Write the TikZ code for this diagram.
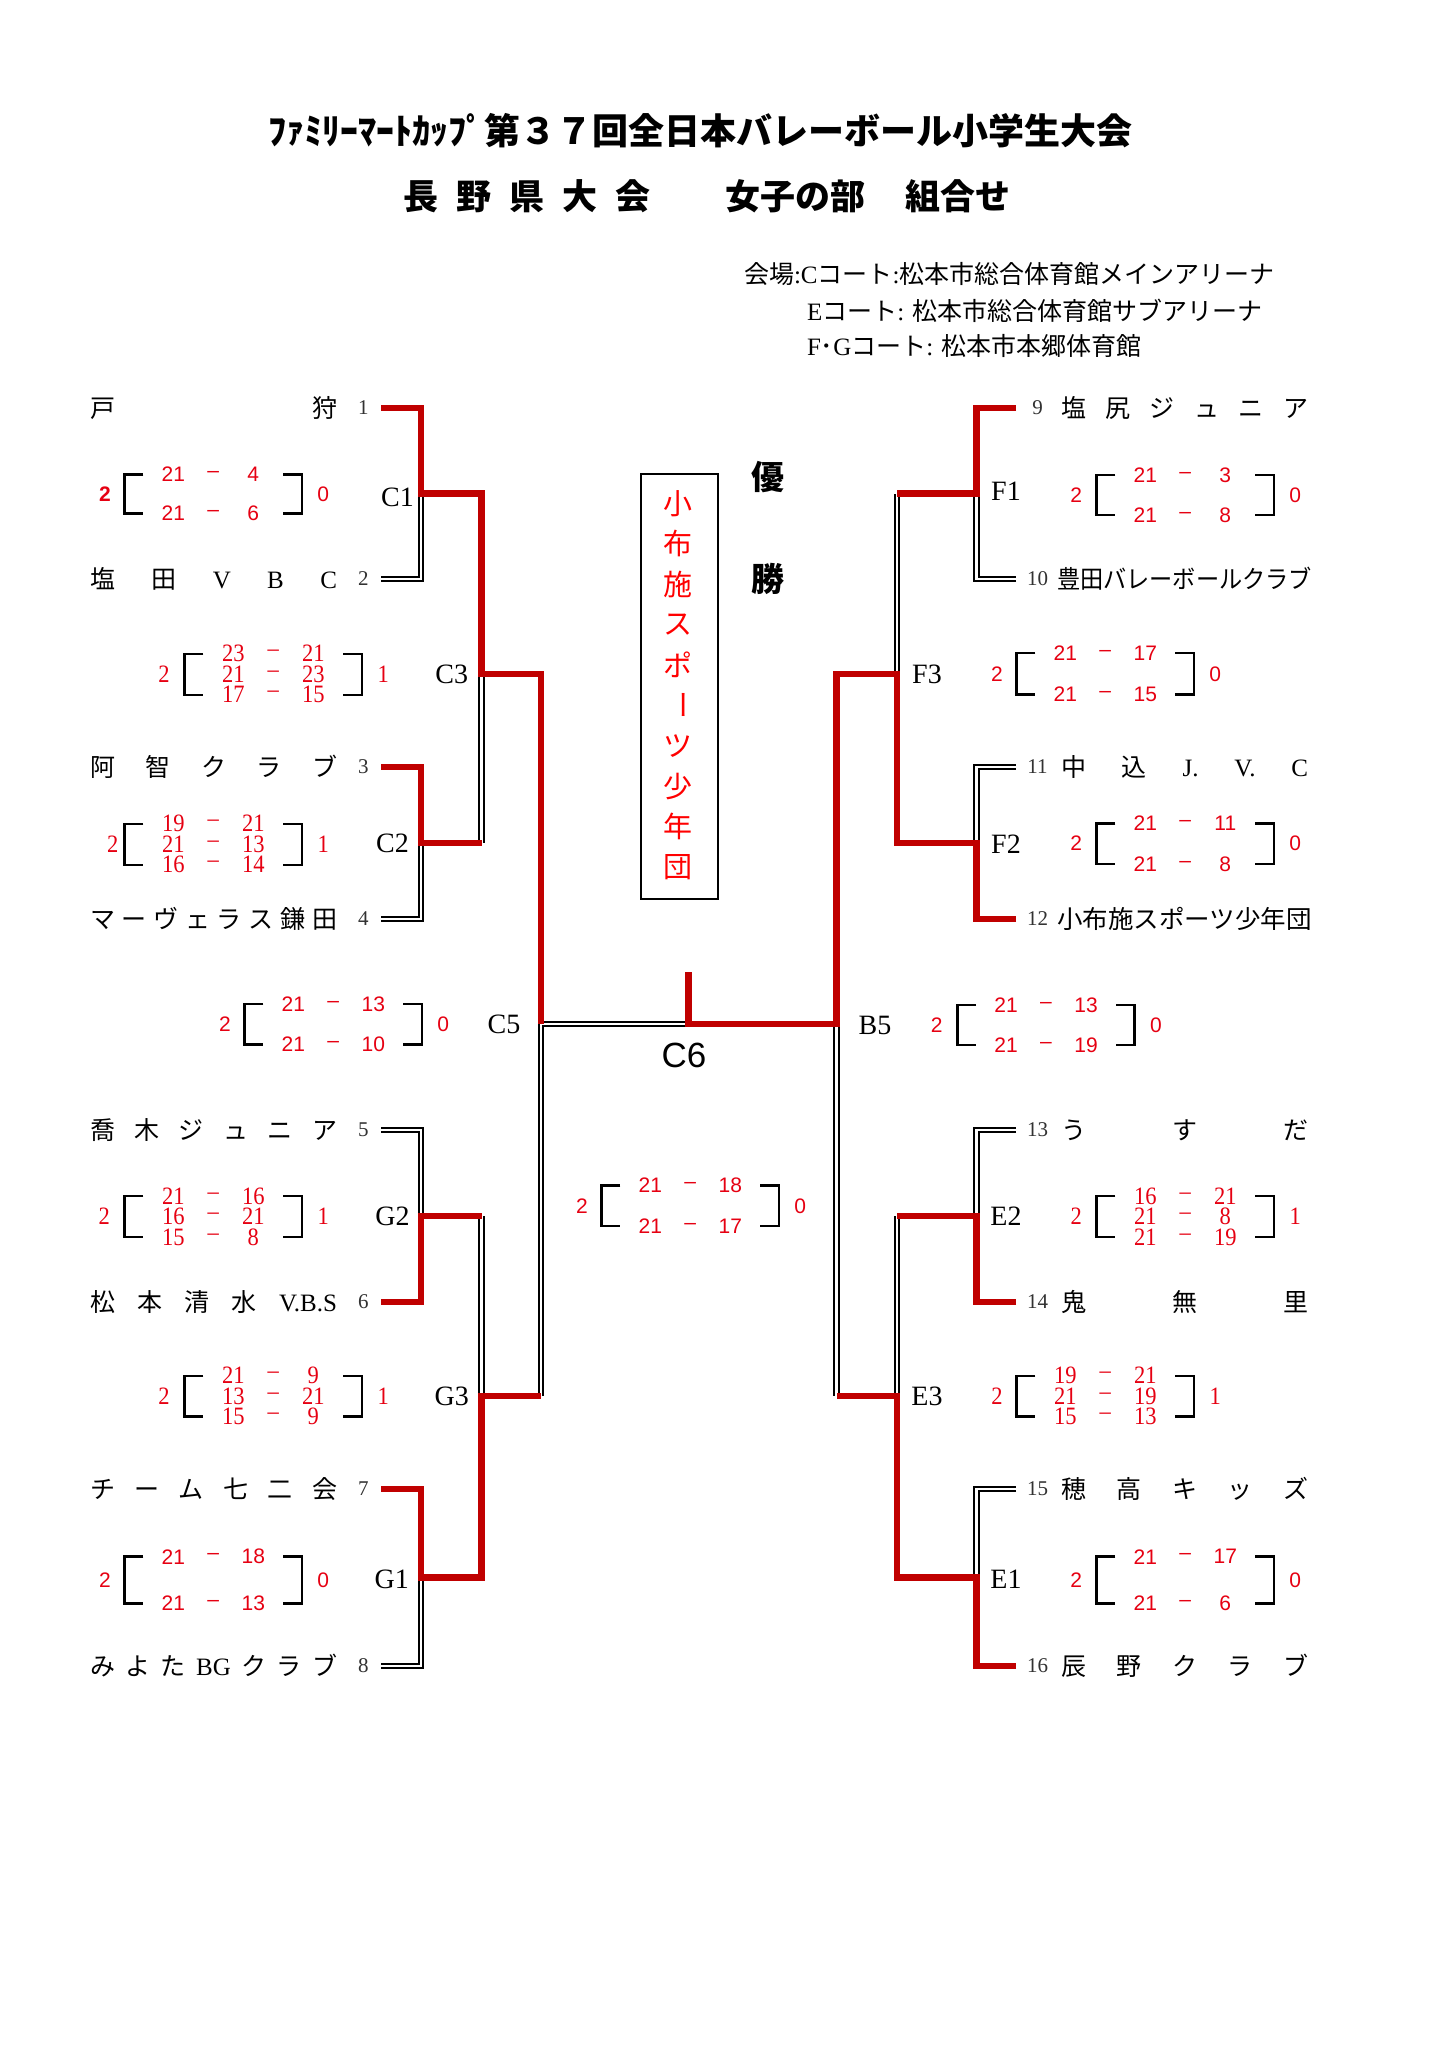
\documentclass[tikz,border=0pt]{standalone}
\usepackage{fontspec}
\usepackage{graphicx}
\setmainfont{Liberation Serif}
\newfontfamily\jp{Noto Sans CJK JP}
\newfontfamily\latn{Liberation Serif}
\newfontfamily\lsans{Liberation Sans}
\newfontfamily\sstr{Liberation Serif}[FakeStretch=0.9]
\newcommand\lw[1]{{\latn #1}}
\definecolor{lred}{RGB}{192,0,0}
\definecolor{scred}{RGB}{230,0,18}
\definecolor{numgray}{RGB}{50,50,50}
\tikzset{
 every node/.style={inner sep=0pt, outer sep=0pt},
 rl/.style={draw=lred, line width=3.3bp},
 dbl/.style={draw=black, double=white, double distance=1.2bp, line width=1.05bp},
 brk/.style={draw=black, line width=1.35bp},
 sc2/.style={text=scred, font=\lsans\fontsize{10.5bp}{12bp}\selectfont},
 sc3/.style={text=scred, font=\sstr\fontsize{12.5bp}{14bp}\selectfont},
 lab/.style={font=\latn\fontsize{14bp}{16bp}\selectfont},
 tnum/.style={text=numgray, font=\latn\fontsize{10.5bp}{12bp}\selectfont},
 tname/.style={anchor=west, font=\jp\fontsize{12.5bp}{14bp}\selectfont},
 venue/.style={anchor=west, font=\jp\fontsize{12.5bp}{14bp}\selectfont},
 ttl/.style={anchor=west, font=\jp\bfseries\fontsize{18bp}{20bp}\selectfont},
 wtext/.style={text=red, font=\jp\fontsize{14.5bp}{16bp}\selectfont},
 yusho/.style={font=\jp\bfseries\fontsize{16.5bp}{18bp}\selectfont},
}
\newcommand\jn[1]{\makebox[123.5bp]{#1}}
% #1 name #2 base #3 ytop #4 ybot #5 L #6 R #7 rows #8 leftoff #9 style
\newcommand\scoreblk[9]{%
 \draw[brk] ({#2+20},#3) -- ({#2+1.35},#3) -- ({#2+1.35},#4) -- ({#2+20},#4);
 \draw[brk] ({#2+160},#3) -- ({#2+178.65},#3) -- ({#2+178.65},#4) -- ({#2+160},#4);
 \node[#9] (#1-L) at ({#2-#8},{(#3+#4)/2}) {#5};
 \node[#9] (#1-R) at ({#2+200},{(#3+#4)/2}) {#6};
 \foreach \yy/\aa/\bb [count=\i] in {#7} {
   \node[#9] (#1-a\i) at ({#2+50},\yy) {\aa};
   \node[#9] (#1-d\i) at ({#2+90},\yy) {–};
   \node[#9] (#1-b\i) at ({#2+130},\yy) {\bb};
 }%
}
\begin{document}
\begin{tikzpicture}[x=0.5bp,y=-0.5bp]
\fill[white] (0,0) rectangle (1448,2048);
\useasboundingbox (0,0) rectangle (1448,2048);

% titles
\node[ttl] (title1) at (268,131) {ﾌｧﾐﾘｰﾏｰﾄｶｯﾌﾟ第３７回全日本バレーボール小学生大会};
\node[ttl, font=\jp\bfseries\fontsize{17.5bp}{20bp}\selectfont] (title2) at (403.5,196)
 {長\hspace{9bp}野\hspace{9bp}県\hspace{9bp}大\hspace{9bp}会\hspace{37.5bp}女子の部\hspace{19.75bp}組合せ};
\node[venue] (v1) at (744,274) {会場\lw{:C}コート\lw{:}松本市総合体育館メインアリーナ};
\node[venue] (v2) at (807,311) {\lw{E}コート\lw{: }松本市総合体育館サブアリーナ};
\node[venue] (v3) at (807,346) {\lw{F}･\lw{G}コート\lw{: }松本市本郷体育館};

% coordinates
\foreach \k/\yy in {1/408,2/579,3/767,4/919,5/1130,6/1302,7/1489,8/1666}
  \coordinate (t\k) at (381,\yy);
\foreach \k/\yy in {9/408,10/579,11/767,12/919,13/1130,14/1302,15/1489,16/1666}
  \coordinate (t\k) at (1016,\yy);
\coordinate (jC1) at (421,493.5);
\coordinate (jC2) at (421,843);
\coordinate (jG2) at (421,1216);
\coordinate (jG1) at (421,1577.5);
\coordinate (jC3) at (481.5,674);
\coordinate (jG3) at (481.5,1396);
\coordinate (jC5) at (541,1024);
\coordinate (jC6) at (688.5,1024);
\coordinate (cup) at (688.5,972);
\coordinate (jF1) at (976.5,493.5);
\coordinate (jF2) at (976.5,843);
\coordinate (jE2) at (976.5,1216);
\coordinate (jE1) at (976.5,1577.5);
\coordinate (jF3) at (897,674);
\coordinate (jE3) at (897,1396);
\coordinate (jB5) at (836.5,1024);

% losing paths (double black)
\draw[dbl] (t2) -| (jC1);
\draw[dbl] (t4) -| (jC2);
\draw[dbl] (jC2 -| jC3) -- (jC3);
\draw[dbl] (t5) -| (jG2);
\draw[dbl] (jG2 -| jG3) -- (jG3);
\draw[dbl] (t8) -| (jG1);
\draw[dbl] (jC6) -- (jC5) -- (jG3 -| jC5);
\draw[dbl] (t10) -| (jF1);
\draw[dbl] (jF1 -| jF3) -- (jF3);
\draw[dbl] (t11) -| (jF2);
\draw[dbl] (t13) -| (jE2);
\draw[dbl] (jE2 -| jE3) -- (jE3);
\draw[dbl] (t15) -| (jE1);
\draw[dbl] (jB5) -- (jE3 -| jB5);

% winning paths (red)
\draw[rl] (t1) -| (jC1) -| (jC3) -| (jC5);
\draw[rl] (t3) -| (jC2) -- (jC2 -| jC3);
\draw[rl] (t6) -| (jG2) -- (jG2 -| jG3);
\draw[rl] (t7) -| (jG1) -| (jG3) -- (jG3 -| jC5);
\draw[rl] (t9) -| (jF1) -- (jF1 -| jF3);
\draw[rl] (t12) -| (jF2) -| (jF3) -| (jB5) -- (jC6) -- (cup);
\draw[rl] (t14) -| (jE2) -- (jE2 -| jE3);
\draw[rl] (t16) -| (jE1) -| (jE3) -- (jE3 -| jB5);

% team numbers
\foreach \k/\yy in {1/408,2/579,3/767,4/919,5/1130,6/1302,7/1489,8/1666}
  \node[tnum] (k\k) at (363.3,\yy) {\k};
\foreach \k/\yy in {9/408,10/579,11/767,12/919,13/1130,14/1302,15/1489,16/1666}
  \node[tnum] (k\k) at (1037.5,\yy) {\k};

% team names
\node[tname] (n1) at (90,408) {\jn{戸\hfill 狩}};
\node[tname] (n2) at (90,579) {\jn{塩\hfill 田\hfill\lw{V}\hfill\lw{B}\hfill\lw{C}}};
\node[tname] (n3) at (90,767) {\jn{阿\hfill 智\hfill ク\hfill ラ\hfill ブ}};
\node[tname] (n4) at (90,919) {\jn{マ\hfill ー\hfill ヴ\hfill ェ\hfill ラ\hfill ス\hfill 鎌\hfill 田}};
\node[tname] (n5) at (90,1130) {\jn{喬\hfill 木\hfill ジ\hfill ュ\hfill ニ\hfill ア}};
\node[tname] (n6) at (90,1302) {\jn{松\hfill 本\hfill 清\hfill 水\hfill\lw{V.B.S}}};
\node[tname] (n7) at (90,1489) {\jn{チ\hfill ー\hfill ム\hfill 七\hfill 二\hfill 会}};
\node[tname] (n8) at (90,1666) {\jn{み\hfill よ\hfill た\hfill\lw{BG}\hfill ク\hfill ラ\hfill ブ}};
\node[tname] (n9) at (1061,408) {\jn{塩\hfill 尻\hfill ジ\hfill ュ\hfill ニ\hfill ア}};
\node[tname] (n10) at (1057,579) {\scalebox{0.927}[1]{豊田バレーボールクラブ}};
\node[tname] (n11) at (1061,767) {\jn{中\hfill 込\hfill\lw{J.}\hfill\lw{V.}\hfill\lw{C}}};
\node[tname] (n12) at (1057,919) {\scalebox{1.02}[1]{小布施スポーツ少年団}};
\node[tname] (n13) at (1061,1130) {\jn{う\hfill す\hfill だ}};
\node[tname] (n14) at (1061,1302) {\jn{鬼\hfill 無\hfill 里}};
\node[tname] (n15) at (1061,1489) {\jn{穂\hfill 高\hfill キ\hfill ッ\hfill ズ}};
\node[tname] (n16) at (1061,1666) {\jn{辰\hfill 野\hfill ク\hfill ラ\hfill ブ}};

% match labels
\node[lab] (lC1) at (397.5,497) {C1};
\node[lab] (lC2) at (392.5,843.5) {C2};
\node[lab] (lC3) at (451.7,674) {C3};
\node[lab] (lC5) at (504,1024) {C5};
\node[lab] (lG2) at (392.5,1216.7) {G2};
\node[lab] (lG3) at (451.7,1396) {G3};
\node[lab] (lG1) at (391.7,1579) {G1};
\node[lab] (lF1) at (1006,491) {F1};
\node[lab] (lF2) at (1006,844) {F2};
\node[lab] (lF3) at (927,674) {F3};
\node[lab] (lB5) at (875,1025) {B5};
\node[lab] (lE2) at (1006,1216.7) {E2};
\node[lab] (lE3) at (927,1396) {E3};
\node[lab] (lE1) at (1006,1579) {E1};
\node[font=\lsans\fontsize{17.5bp}{20bp}\selectfont] (lC6) at (684,1055) {C6};

% scores
\scoreblk{sC1}{123.3}{474.5}{513.5}{\textbf{2}}{0}{474.5/21/4,513.5/21/6}{18.3}{sc2}
\scoreblk{sC3}{183.3}{654}{695}{2}{1}{653.5/23/21,674/21/23,694.5/17/15}{19.3}{sc3}
\scoreblk{sC2}{123.3}{824}{865}{2}{1}{823.3/19/21,844/21/13,864.3/16/14}{10.6}{sc3}
\scoreblk{sC5}{243.3}{1004}{1044.6}{2}{0}{1004/21/13,1044.6/21/10}{18.3}{sc2}
\scoreblk{sG2}{123.3}{1196}{1237}{2}{1}{1196/21/16,1216.5/16/21,1237/15/8}{19}{sc3}
\scoreblk{sG3}{183.3}{1376}{1416.5}{2}{1}{1375.7/21/9,1396/13/21,1416/15/9}{19.3}{sc3}
\scoreblk{sG1}{123.3}{1556.7}{1603.3}{2}{0}{1556.7/21/18,1603.3/21/13}{18.3}{sc2}
\scoreblk{sC6}{600.3}{1185.6}{1226}{2}{0}{1185.6/21/18,1226/21/17}{18.3}{sc2}
\scoreblk{sF1}{1095.3}{475}{515}{2}{0}{475/21/3,515/21/8}{19}{sc2}
\scoreblk{sF3}{1015.3}{653}{694.6}{2}{0}{653/21/17,694.6/21/15}{18.3}{sc2}
\scoreblk{sF2}{1095.3}{823.3}{864}{2}{0}{823.3/21/11,864/21/8}{19}{sc2}
\scoreblk{sB5}{956}{1005}{1045}{2}{0}{1005/21/13,1045/21/19}{19.3}{sc2}
\scoreblk{sE2}{1095.3}{1196}{1237}{2}{1}{1196/16/21,1216.5/21/8,1237/21/19}{19}{sc3}
\scoreblk{sE3}{1015.3}{1376}{1416.5}{2}{1}{1375.7/19/21,1396/21/19,1416/15/13}{18.3}{sc3}
\scoreblk{sE1}{1095.3}{1556.7}{1603.3}{2}{0}{1556.7/21/17,1603.3/21/6}{19}{sc2}

% champion box
\draw[line width=1.4bp] (641,474) rectangle (718,899);
\foreach \c [count=\i] in {小,布,施,ス,ポ,{\rotatebox[origin=c]{-90}{ー}},ツ,少,年,団}
  \node[wtext] (w\i) at (678.3,{503.3+(\i-1)*40.4}) {\c};
\node[yusho] (yu) at (768,477.5) {優};
\node[yusho] (sho) at (768,579) {勝};
\end{tikzpicture}
\end{document}
